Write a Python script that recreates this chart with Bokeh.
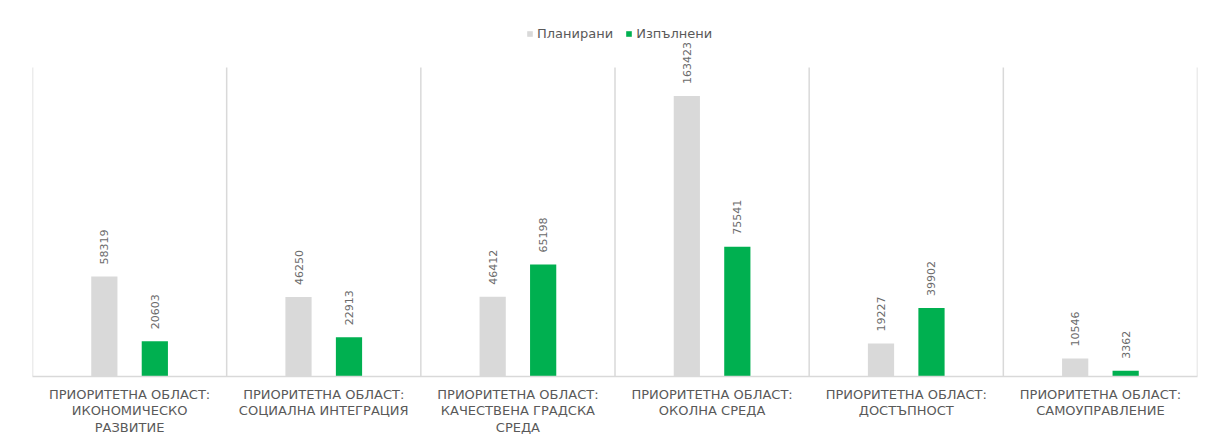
import numpy as np
from bokeh.plotting import figure
from bokeh.models import (ColumnDataSource, Range1d, FixedTicker, Legend, LegendItem)
from bokeh.transform import dodge
from bokeh.core.properties import value
from bokeh.embed import file_html
from bokeh.resources import INLINE

categories = [
    "ПРИОРИТЕТНА ОБЛАСТ:\nИКОНОМИЧЕСКО\nРАЗВИТИЕ",
    "ПРИОРИТЕТНА ОБЛАСТ:\nСОЦИАЛНА ИНТЕГРАЦИЯ",
    "ПРИОРИТЕТНА ОБЛАСТ:\nКАЧЕСТВЕНА ГРАДСКА\nСРЕДА",
    "ПРИОРИТЕТНА ОБЛАСТ:\nОКОЛНА СРЕДА",
    "ПРИОРИТЕТНА ОБЛАСТ:\nДОСТЪПНОСТ",
    "ПРИОРИТЕТНА ОБЛАСТ:\nСАМОУПРАВЛЕНИЕ",
]
planned = [58319, 46250, 46412, 163423, 19227, 10546]
done = [20603, 22913, 65198, 75541, 39902, 3362]
series_names = ["Планирани", "Изпълнени"]
axis_max = 180000

GRAY = "#D9D9D9"
GREEN = "#00B050"
TEXT = "#595959"

n = len(categories)
xc = np.arange(n) + 0.5
src = ColumnDataSource(dict(
    x=xc, planned=planned, done=done,
    planned_lbl=[str(v) for v in planned],
    done_lbl=[str(v) for v in done],
))

# frame: page y 20..376, the 180000 line at page y 67
frame_top_px, base_px, max_px = 20, 376, 67
y_top = axis_max * (base_px - frame_top_px) / (base_px - max_px)

p = figure(width=1205, height=440, output_backend="svg", toolbar_location=None,
           x_range=Range1d(0, n), y_range=Range1d(0, y_top),
           min_border_left=32, min_border_right=8, min_border_top=20,
           min_border_bottom=64)
p.outline_line_color = None
p.background_fill_color = "white"
p.border_fill_color = "white"
p.ygrid.visible = False
p.xgrid.visible = False
p.yaxis.visible = False

# separators
sep = np.arange(n + 1)
p.segment(x0=sep, y0=np.zeros(n + 1), x1=sep, y1=np.full(n + 1, axis_max),
          line_color=GRAY, line_width=1.5)

off = 0.13
bw = 0.135
r1 = p.vbar(x=dodge("x", -off, range=p.x_range), top="planned", width=bw,
            source=src, fill_color=GRAY, line_color=None)
r2 = p.vbar(x=dodge("x", off, range=p.x_range), top="done", width=bw,
            source=src, fill_color=GREEN, line_color=None)

for col, lbl, o in [("planned", "planned_lbl", -off), ("done", "done_lbl", off)]:
    p.text(x=dodge("x", o, range=p.x_range), y=col, text=lbl, source=src,
           angle=np.pi / 2, text_align="left", text_baseline="middle",
           x_offset=0, y_offset=-12, text_font=value("DejaVu Sans"),
           text_font_size="11px", text_color="#6b6b6b")

ax = p.xaxis[0]
ax.ticker = FixedTicker(ticks=list(xc))
ax.major_label_overrides = {float(x): c for x, c in zip(xc, categories)}
ax.major_tick_line_color = None
ax.minor_tick_line_color = None
ax.axis_line_color = GRAY
ax.axis_line_width = 1.5
ax.major_label_standoff = 4
ax.major_label_text_font = "DejaVu Sans"
ax.major_label_text_font_size = "13px"
ax.major_label_text_color = TEXT
ax.major_label_text_line_height = 1.1

legend = Legend(items=[LegendItem(label=series_names[0], renderers=[r1]),
                       LegendItem(label=series_names[1], renderers=[r2])],
                orientation="horizontal", location=(494, 335),
                border_line_color=None, background_fill_alpha=0,
                label_text_font="DejaVu Sans", label_text_font_size="13px",
                label_text_color=TEXT, glyph_width=7, glyph_height=7,
                spacing=12, label_standoff=4, padding=4, margin=0)
p.add_layout(legend)

open("out.html", "w").write(file_html(p, INLINE))
